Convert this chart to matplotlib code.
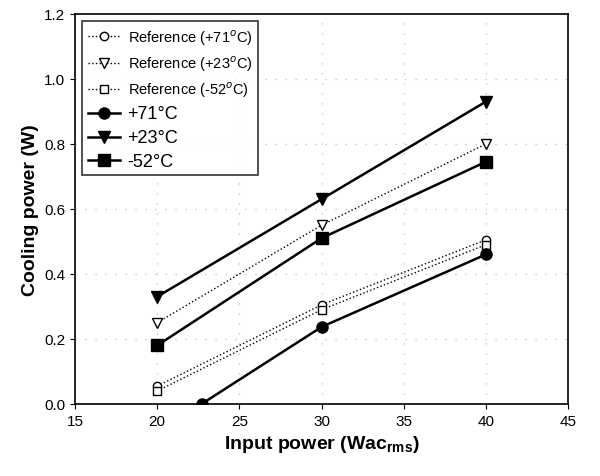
import matplotlib
matplotlib.use("Agg")
import matplotlib.pyplot as plt

plt.rcParams['font.family'] = ['Liberation Sans', 'DejaVu Sans']

x = [20, 30, 40]
x_hot = [22.7, 30, 40]

ref_71 = [0.055, 0.305, 0.505]
ref_23 = [0.25, 0.55, 0.80]
ref_m52 = [0.04, 0.29, 0.49]
meas_71 = [0.0, 0.237, 0.46]
meas_23 = [0.33, 0.63, 0.93]
meas_m52 = [0.18, 0.51, 0.745]

fig = plt.figure(figsize=(6, 4.77), dpi=100)
ax = fig.add_axes([0.125, 0.151, 0.822, 0.818])

ax.plot(x, ref_71, ':', color='black', lw=1, marker='o', mfc='white', ms=6, label='Reference (+71$^{o}$C)')
ax.plot(x, ref_23, ':', color='black', lw=1, marker='v', mfc='white', ms=7, label='Reference (+23$^{o}$C)')
ax.plot(x, ref_m52, ':', color='black', lw=1, marker='s', mfc='white', ms=5.5, label='Reference (-52$^{o}$C)')
ax.plot(x_hot, meas_71, '-', color='black', lw=1.8, marker='o', ms=8, label='+71°C')
ax.plot(x, meas_23, '-', color='black', lw=1.8, marker='v', ms=9, label='+23°C')
ax.plot(x, meas_m52, '-', color='black', lw=1.8, marker='s', ms=8, label='-52°C')

ax.set_xlim(15, 45)
ax.set_ylim(0, 1.2)
ax.set_xticks([15, 20, 25, 30, 35, 40, 45])
ax.set_yticks([0.0, 0.2, 0.4, 0.6, 0.8, 1.0, 1.2])
ax.set_yticklabels(['0.0', '0.2', '0.4', '0.6', '0.8', '1.0', '1.2'])
ax.tick_params(direction='out', labelsize=11)
ax.grid(True, linestyle=(0, (1, 8)), color='#b0b0b0', lw=0.8)
for s in ax.spines.values():
    s.set_linewidth(1.2)

ax.set_xlabel('Input power (Wac$_{\\mathregular{rms}}$)', fontsize=14, fontweight='bold')
ax.set_ylabel('Cooling power (W)', fontsize=14, fontweight='bold')

leg = ax.legend(loc='upper left', fontsize=10.5, frameon=True, fancybox=False,
                edgecolor='black', handlelength=2.2, borderaxespad=0.5,
                labelspacing=0.45, handletextpad=0.5)
leg.get_frame().set_linewidth(1.2)
for t in leg.get_texts()[3:]:
    t.set_fontsize(13)

fig.savefig('out.png', dpi=100)
